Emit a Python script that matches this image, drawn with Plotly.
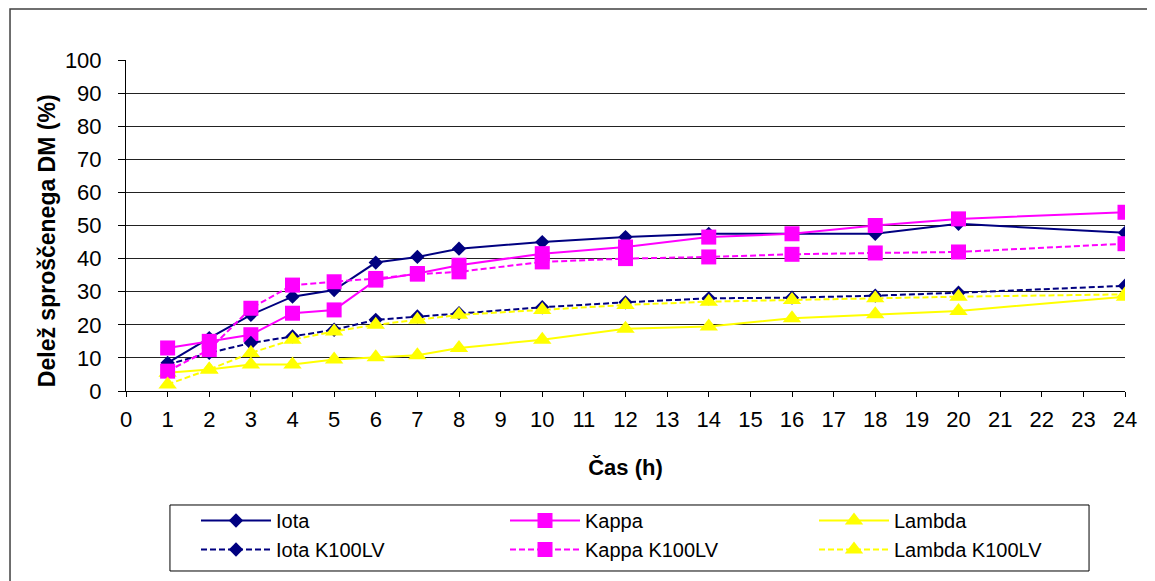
import plotly.graph_objects as go

# ---- data ----
hours = [1, 2, 3, 4, 5, 6, 7, 8, 10, 12, 14, 16, 18, 20, 24]
iota = [8.5, 16, 23, 28.5, 30.5, 38.8, 40.5, 43, 45, 46.5, 47.5, 47.5, 47.5, 50.5, 47.8]
kappa = [13, 15, 17, 23.5, 24.5, 33.5, 35.5, 38, 41.5, 43.5, 46.5, 47.5, 50, 52, 54]
lambda_ = [5.5, 6.5, 8, 8, 9.5, 10.2, 10.8, 13, 15.5, 18.8, 19.5, 22, 23.2, 24.2, 28.5]
iota_k = [8, 11.5, 14.5, 16.5, 18.5, 21.5, 22.5, 23.5, 25.3, 26.8, 28, 28.2, 28.8, 29.7, 31.8]
kappa_k = [6, 12.5, 25, 32, 33, 34, 35.3, 36, 39, 40, 40.5, 41.3, 41.7, 42, 44.5]
lambda_k = [2, 6.5, 11.5, 15.5, 18, 20, 21.5, 23, 24.5, 26, 27, 27.5, 28, 28.5, 29.2]

series_names = ["Iota", "Kappa", "Lambda", "Iota K100LV", "Kappa K100LV", "Lambda K100LV"]
x_ticks = list(range(0, 25))
y_ticks = list(range(0, 101, 10))

NAVY = "#000080"
MAG = "#FF00FF"
YEL = "#FFFF00"
DASH = "6px,3px"

styles = [
    (iota, NAVY, "diamond", 11, "solid"),
    (kappa, MAG, "square", 15, "solid"),
    (lambda_, YEL, "triangle-up", 16, "solid"),
    (iota_k, NAVY, "diamond", 11, DASH),
    (kappa_k, MAG, "square", 15, DASH),
    (lambda_k, YEL, "triangle-up", 16, DASH),
]

fig = go.Figure()
for name, (vals, col, sym, sz, dash) in zip(series_names, styles):
    fig.add_trace(go.Scatter(
        x=hours, y=vals, name=name, mode="lines+markers",
        line=dict(color=col, width=2, dash=dash),
        marker=dict(symbol=sym, size=sz, color=col, line=dict(width=0)),
    ))

W, H = 1147, 573  # page body has an 8px margin
fig.update_layout(
    width=W, height=H,
    margin=dict(l=118, r=30, t=52, b=190, autoexpand=False),
    paper_bgcolor="white", plot_bgcolor="white",
    font=dict(family="Liberation Sans, Arial, sans-serif", color="black"),
    showlegend=True,
    legend=dict(
        orientation="h", xref="container", yref="container",
        x=188 / W, xanchor="left", y=1 - 493 / H, yanchor="top",
        borderwidth=0, bgcolor="rgba(0,0,0,0)",
        font=dict(size=20), entrywidth=224, entrywidthmode="pixels",
        itemwidth=70, traceorder="normal",
    ),
)

fig.update_xaxes(
    range=[0, 24], tickvals=x_ticks, ticktext=[str(v) for v in x_ticks],
    showgrid=False, zeroline=False, automargin=False,
    showline=True, linecolor="black", linewidth=1,
    ticks="outside", ticklen=5, tickcolor="black", tickwidth=1,
    tickfont=dict(size=22), ticklabelstandoff=4,
    title=dict(text="<b>Čas (h)</b>", font=dict(size=22), standoff=28),
)
fig.update_yaxes(
    range=[0, 100], tickvals=y_ticks, ticktext=[str(v) for v in y_ticks],
    showgrid=True, gridcolor="#222222", gridwidth=1, zeroline=False, automargin=False,
    showline=True, linecolor="black", linewidth=1,
    ticks="outside", ticklen=7, tickcolor="black", tickwidth=1,
    tickfont=dict(size=22), ticklabelstandoff=12,
)

# y-axis title as rotated annotation (sits slightly below the plot centre)
fig.add_annotation(
    text="<b>Delež sproščenega DM (%)</b>", textangle=-90,
    xref="paper", yref="paper", x=-0.079, y=0.453,
    xanchor="center", yanchor="middle", showarrow=False,
    font=dict(size=23, color="black"),
)

# chart border
fig.add_shape(
    type="rect", xref="paper", yref="paper",
    x0=-0.1161, y0=1.154, x1=1.04, y1=-0.62,
    line=dict(color="#404040", width=1.5), fillcolor="rgba(0,0,0,0)", layer="below",
)
# legend frame
fig.add_shape(
    type="rect", xref="paper", yref="paper",
    x0=0.044, y0=-0.3444, x1=0.964, y1=-0.5438,
    line=dict(color="black", width=1), fillcolor="white", layer="below",
)

fig.write_html("out.html")
